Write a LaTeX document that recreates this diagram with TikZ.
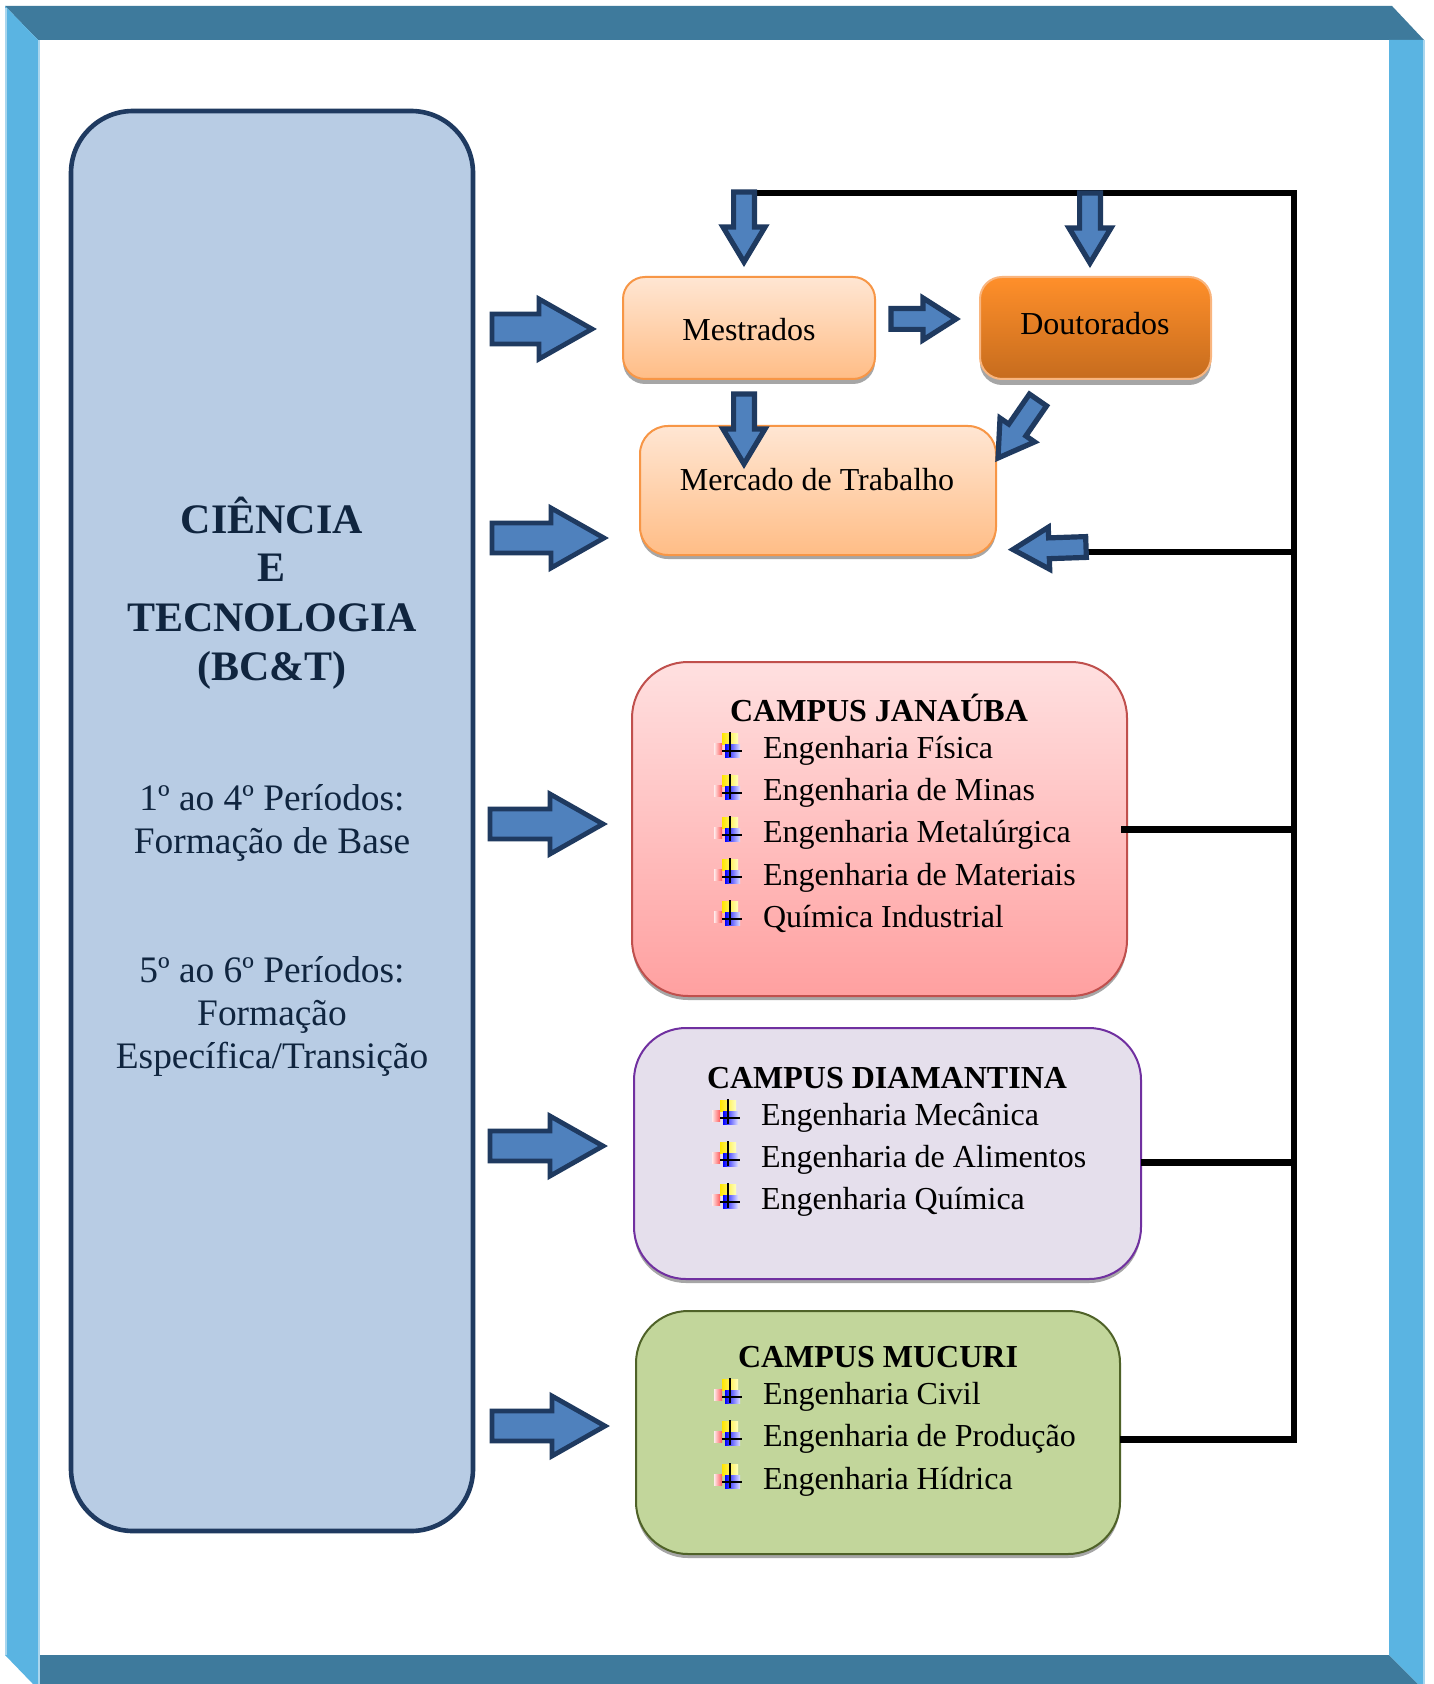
\documentclass[tikz,border=0pt]{standalone}
\usepackage{fontspec}
\setmainfont{Liberation Serif}
\usetikzlibrary{calc}
\definecolor{frdark}{HTML}{3E7A9C}
\definecolor{frlight}{HTML}{5AB4E2}
\definecolor{fredge}{HTML}{A9D6EE}
\definecolor{navy}{HTML}{1F3A60}
\definecolor{arrfill}{HTML}{4F81BD}
\definecolor{leftfill}{HTML}{B8CCE4}
\definecolor{leftink}{HTML}{10253F}
\definecolor{orborder}{HTML}{F79646}
\definecolor{ortop}{HTML}{FFE6D3}
\definecolor{orbot}{HTML}{FFBD86}
\definecolor{dtop}{HTML}{FF8F2A}
\definecolor{dbot}{HTML}{C66C1E}
\definecolor{jtop}{HTML}{FFE0E0}
\definecolor{jbot}{HTML}{FFA0A0}
\definecolor{jborder}{HTML}{C0504D}
\definecolor{dfill}{HTML}{E5DFEC}
\definecolor{dborder}{HTML}{7030A0}
\definecolor{mfill}{HTML}{C2D69B}
\definecolor{mborder}{HTML}{4F6228}
\tikzset{
  x=0.5pt,y=-0.5pt,
  every node/.style={inner sep=0pt,outer sep=0pt},
  bigarrow/.style={draw=navy,fill=arrfill,line width=2.4pt,line join=miter,miter limit=10},
  smallarrow/.style={draw=navy,fill=arrfill,line width=2.6pt,line join=miter,miter limit=10},
  itemtxt/.style={anchor=base west,font=\fontsize{16}{19}\selectfont},
  titletxt/.style={anchor=base,font=\fontsize{16}{19}\selectfont\bfseries},
  lefthead/.style={anchor=base,text=leftink,font=\fontsize{21}{24}\selectfont\bfseries},
  leftbody/.style={anchor=base,text=leftink,font=\fontsize{18.7}{21}\selectfont},
  boxlabel/.style={anchor=base,font=\fontsize{16}{19}\selectfont},
  wire/.style={line width=3.3pt,black},
  orbox/.style={draw=orborder,line width=1pt,top color=ortop,bottom color=orbot,anchor=north west},
  campbox/.style={line width=1pt,anchor=north west},
  shadowfill/.style={fill=black!35},
}
% tail, tip, head base distance (pt), head half-width (pt), shaft half-width (pt), style
\newcommand{\barrow}[6]{%
  \coordinate (hb) at ($(#2)!#3!(#1)$);
  \draw[#6] ($(#1)!#5!90:(#2)$) -- ($(hb)!#5!90:(#2)$) -- ($(hb)!#4!90:(#2)$) -- (#2)
     -- ($(hb)!#4!-90:(#2)$) -- ($(hb)!#5!-90:(#2)$) -- ($(#1)!#5!-90:(#2)$) -- cycle;}
\newcommand{\bul}[3]{%
  \begin{scope}[shift={(#1,#2)}]
    \coordinate (#3) at (0,0);
    \shade[left color=red!8,right color=red!65] (-16,-8) rectangle (-8,3);
    \shade[left color=yellow!80!orange,right color=yellow!25] (-8,-18) rectangle (8,-7);
    \shade[left color=blue,right color=blue!12] (-5,-7) rectangle (10,6);
    \draw[black,line width=0.6pt] (0,-19) -- (0,6) (-8,0) -- (12,0);
  \end{scope}}
\begin{document}
\begin{tikzpicture}
\useasboundingbox (0,0) rectangle (1433,1684);
\fill[white] (0,0) rectangle (1433,1684);
% frame
\fill[frdark] (5,6) -- (1392,6) -- (1424,40) -- (38,40) -- cycle;
\fill[frdark] (38,1655) -- (1389,1655) -- (1418,1684) -- (38,1684) -- cycle;
\fill[frlight] (5,6) -- (38,40) -- (38,1684) -- (33,1684) -- (5,1655) -- cycle;
\fill[frlight] (1389,40) -- (1423,40) -- (1423,1684) -- (1418,1684) -- (1389,1655) -- cycle;
\fill[fredge] (38,40) rectangle (40,1684);
\fill[fredge] (5,8) rectangle (6.5,1655);
\fill[fredge] (1423,40) rectangle (1425,1684);
% left box
\node[draw=navy,fill=leftfill,line width=2.3pt,rounded corners=31pt,minimum width=201pt,minimum height=710pt,anchor=north west] (sci) at (71,111) {};
\node[lefthead] (l1) at (272,533) {CIÊNCIA};
\node[lefthead] (l2) at (272,581) {E};
\node[lefthead] (l3) at (272,631) {TECNOLOGIA};
\node[lefthead] (l4) at (272,680) {(BC\&T)};
\node[leftbody] (l5) at (272,810) {1º ao 4º Períodos:};
\node[leftbody] (l6) at (272,853) {Formação de Base};
\node[leftbody] (l7) at (272,982) {5º ao 6º Períodos:};
\node[leftbody] (l8) at (272,1025) {Formação};
\node[leftbody] (l9) at (272,1068) {Específica/Transição};
% boxes
\fill[shadowfill,rounded corners=11pt] (623,281) rectangle (875,384);
\node[orbox,rounded corners=11pt,minimum width=126pt,minimum height=51pt] (mest) at (623,277) {};
\fill[shadowfill,rounded corners=11pt] (980,281) rectangle (1211,385);
\node[draw=orborder!70,line width=1pt,rounded corners=11pt,top color=dtop,bottom color=dbot,minimum width=115.5pt,minimum height=51pt,anchor=north west] (dout) at (980,277) {};
\fill[shadowfill,rounded corners=14pt] (640,430) rectangle (996,559);
\node[orbox,rounded corners=14pt,minimum width=178pt,minimum height=64.5pt] (merc) at (640,426) {};
\node[boxlabel] (tm) at (749,341) {Mestrados};
\node[boxlabel] (td) at (1095,335) {Doutorados};
\node[boxlabel] (tt) at (817,490) {Mercado de Trabalho};
% campus
\fill[shadowfill,rounded corners=28pt] (632,666) rectangle (1127,1000);
\node[campbox,draw=jborder,rounded corners=28pt,top color=jtop,bottom color=jbot,minimum width=247.5pt,minimum height=167pt] (jan) at (632,662) {};
\fill[shadowfill,rounded corners=26pt] (634,1032) rectangle (1141,1283);
\node[campbox,draw=dborder,rounded corners=26pt,fill=dfill,minimum width=253.5pt,minimum height=125.5pt] (dia) at (634,1028) {};
\fill[shadowfill,rounded corners=26pt] (636,1315) rectangle (1120,1558);
\node[campbox,draw=mborder,rounded corners=26pt,fill=mfill,minimum width=242pt,minimum height=121.5pt] (muc) at (636,1311) {};
% campus text
\node[titletxt] (jt) at (879,721) {CAMPUS JANAÚBA};
\node[itemtxt] (j1) at (763,758) {Engenharia Física};
\node[itemtxt] (j2) at (763,800) {Engenharia de Minas};
\node[itemtxt] (j3) at (763,842) {Engenharia Metalúrgica};
\node[itemtxt] (j4) at (763,885) {Engenharia de Materiais};
\node[itemtxt] (j5) at (763,927) {Química Industrial};
\node[titletxt] (dt) at (887,1088) {CAMPUS DIAMANTINA};
\node[itemtxt] (d1) at (761,1125) {Engenharia Mecânica};
\node[itemtxt] (d2) at (761,1167) {Engenharia de Alimentos};
\node[itemtxt] (d3) at (761,1209) {Engenharia Química};
\node[titletxt] (mt) at (878,1367) {CAMPUS MUCURI};
\node[itemtxt] (m1) at (763,1404) {Engenharia Civil};
\node[itemtxt] (m2) at (763,1446) {Engenharia de Produção};
\node[itemtxt] (m3) at (763,1489) {Engenharia Hídrica};
\bul{730}{751}{bj1}\bul{730}{793}{bj2}\bul{730}{835}{bj3}\bul{730}{877}{bj4}\bul{730}{919}{bj5}
\bul{728}{1118}{bd1}\bul{728}{1160}{bd2}\bul{728}{1202}{bd3}
\bul{730}{1397}{bm1}\bul{730}{1439}{bm2}\bul{730}{1482}{bm3}
% wires
\coordinate (ctop) at (1294,193);
\coordinate (cbot) at (1294,1439.5);
\coordinate (cmerc) at (1294,552);
\coordinate (cjan) at (1294,829.5);
\coordinate (cdia) at (1294,1162.5);
\coordinate (cA) at (757,193);
\coordinate (cF) at (1086,552);
\coordinate (cJ) at (1121,829.5);
\coordinate (cD) at (1141,1162.5);
\coordinate (cM) at (1120,1439.5);
\draw[wire] (cA) -- (ctop) -- (cbot) -- (cM);
\draw[wire] (cF) -- (cmerc);
\draw[wire] (cJ) -- (cjan);
\draw[wire] (cD) -- (cdia);
% big arrows
\coordinate (a1t) at (492,329); \coordinate (a1h) at (592,329);
\coordinate (a2t) at (492,538); \coordinate (a2h) at (604,538);
\coordinate (a3t) at (490,824); \coordinate (a3h) at (603,824);
\coordinate (a4t) at (490,1146); \coordinate (a4h) at (603,1146);
\coordinate (a5t) at (492,1426); \coordinate (a5h) at (605,1426);
\barrow{a1t}{a1h}{26.5pt}{15pt}{7.5pt}{bigarrow}
\barrow{a2t}{a2h}{26.5pt}{15pt}{7.5pt}{bigarrow}
\barrow{a3t}{a3h}{26.5pt}{15pt}{7.5pt}{bigarrow}
\barrow{a4t}{a4h}{26.5pt}{15pt}{7.5pt}{bigarrow}
\barrow{a5t}{a5h}{26.5pt}{15pt}{7.5pt}{bigarrow}
% small arrows
\coordinate (aat) at (744,192); \coordinate (aah) at (744,262);
\coordinate (abt) at (1090,193); \coordinate (abh) at (1090,263);
\coordinate (act) at (891,319); \coordinate (ach) at (956,319);
\coordinate (adt) at (744,394); \coordinate (adh) at (744,464);
\coordinate (aet) at (1038,400); \coordinate (aeh) at (998,458);
\coordinate (aft) at (1086,547); \coordinate (afh) at (1013,549.5);
\barrow{aat}{aah}{17.5pt}{10.5pt}{5.2pt}{smallarrow}
\barrow{abt}{abh}{17.5pt}{10.5pt}{5.2pt}{smallarrow}
\barrow{act}{ach}{16.5pt}{10.5pt}{5.2pt}{smallarrow}
\barrow{adt}{adh}{17.5pt}{10.5pt}{5.2pt}{smallarrow}
\barrow{aet}{aeh}{17pt}{10.5pt}{5.2pt}{smallarrow}
\barrow{aft}{afh}{18pt}{10.5pt}{5.2pt}{smallarrow}
\end{tikzpicture}
\end{document}
